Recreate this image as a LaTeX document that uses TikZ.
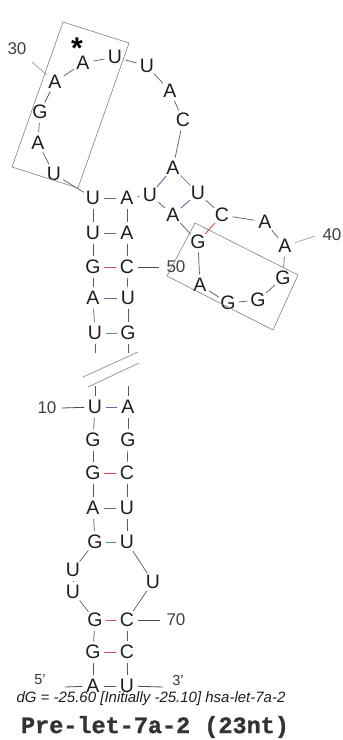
\documentclass[tikz,border=0pt]{standalone}
\usepackage{fontspec}
\setmainfont{Liberation Sans}
\setmonofont{Liberation Mono}[BoldFeatures={FakeBold=1.2}]
\definecolor{aucol}{HTML}{6464A8}
\definecolor{gccol}{HTML}{E0484C}
\definecolor{gucol}{HTML}{4CA04C}
\definecolor{bbcol}{HTML}{5A5A5A}
\definecolor{txtcol}{HTML}{1E1E1E}
\begin{document}
\begin{tikzpicture}[x=1pt,y=-1pt,
  nt/.style={circle, inner sep=0pt, minimum size=21pt, text=txtcol,
             font=\fontsize{19.5}{19.5}\selectfont},
  bb/.style={draw=bbcol, line width=0.7pt},
  au/.style={draw=aucol, line width=0.9pt},
  gc/.style={draw=gccol, line width=0.9pt},
  gu/.style={draw=gucol, line width=0.9pt},
  labdark/.style={draw=black!70, line width=0.8pt},
  lablight/.style={draw=black!35, line width=0.8pt},
  numlab/.style={text=black!75, font=\fontsize{17}{17}\selectfont},
  endlab/.style={text=black!80, font=\fontsize{14.5}{14.5}\selectfont},
  framebox/.style={draw=black!50, line width=0.6pt},
  breakline/.style={draw=black!40, line width=0.8pt}]
\useasboundingbox (0,0) rectangle (343,740);

% 5' strand, lower stem and interior loop
\node[nt] (n1)  at (93,686) {A};
\node[nt] (n2)  at (93,652) {G};
\node[nt] (n3)  at (95,620) {G};
\node[nt] (n4)  at (73,592) {U};
\node[nt] (n5)  at (73,570) {U};
\node[nt] (n6)  at (95,542) {G};
\node[nt] (n7)  at (93,508) {A};
\node[nt] (n8)  at (93,473) {G};
\node[nt] (n9)  at (93,440) {G};
\node[nt] (n10) at (95,407) {U};
% upper stem, 5' side
\node[nt] (n22) at (95,333) {U};
\node[nt] (n23) at (93,298) {A};
\node[nt] (n24) at (93,267) {G};
\node[nt] (n25) at (93,233) {U};
\node[nt] (n26) at (93,198) {U};
% terminal loop
\node[nt] (n27) at (54,174) {U};
\node[nt] (n28) at (38,143) {A};
\node[nt] (n29) at (40,112) {G};
\node[nt] (n30) at (55,82)  {A};
\node[nt] (n31) at (83,63)  {A};
\node[nt] (n32) at (115,57) {U};
\node[nt] (n33) at (147,66) {U};
\node[nt] (n34) at (170,91) {A};
\node[nt] (n35) at (183,120) {C};
\node[nt] (n36) at (173,168) {A};
\node[nt] (n37) at (198,193) {U};
\node[nt] (n38) at (222,215) {C};
\node[nt] (n39) at (265,222) {A};
\node[nt] (n40) at (285,246) {A};
\node[nt] (n41) at (283,278) {G};
\node[nt] (n42) at (258,300) {G};
\node[nt] (n43) at (228,303) {G};
\node[nt] (n44) at (200,285) {A};
\node[nt] (n45) at (198,242) {G};
\node[nt] (n46) at (173,215) {A};
\node[nt] (n47) at (150,195) {U};
% upper stem, 3' side
\node[nt] (n48) at (127,198) {A};
\node[nt] (n49) at (127,233) {A};
\node[nt] (n50) at (127,267) {C};
\node[nt] (n51) at (128,298) {U};
\node[nt] (n52) at (128,333) {G};
% lower stem, 3' side
\node[nt] (n64) at (128,407) {A};
\node[nt] (n65) at (128,440) {G};
\node[nt] (n66) at (127,473) {C};
\node[nt] (n67) at (127,508) {U};
\node[nt] (n68) at (127,542) {U};
\node[nt] (n69) at (153,582) {U};
\node[nt] (n70) at (127,620) {C};
\node[nt] (n71) at (127,652) {C};
\node[nt] (n72) at (127,686) {U};

% backbone
\foreach \a/\b in {n1/n2,n2/n3,n3/n4,n4/n5,n5/n6,n6/n7,n7/n8,n8/n9,n9/n10,
  n22/n23,n23/n24,n24/n25,n25/n26,n26/n27,n27/n28,n28/n29,n29/n30,n30/n31,
  n31/n32,n32/n33,n33/n34,n34/n35,n35/n36,n36/n37,n37/n38,n38/n39,n39/n40,
  n40/n41,n41/n42,n42/n43,n43/n44,n44/n45,n45/n46,n46/n47,n47/n48,n48/n49,
  n49/n50,n50/n51,n51/n52,n64/n65,n65/n66,n66/n67,n67/n68,n68/n69,n69/n70,
  n70/n71,n71/n72}
  \draw[bb] (\a) -- (\b);

% base pairs
\foreach \a/\b in {n26/n48,n25/n49,n23/n51,n10/n64,n7/n67,n36/n47,n37/n46}
  \draw[au] (\a) -- (\b);
\foreach \a/\b in {n24/n50,n8/n66,n3/n70,n2/n71,n38/n45}
  \draw[gc] (\a) -- (\b);
\foreach \a/\b in {n22/n52,n6/n68}
  \draw[gu] (\a) -- (\b);
\draw[bb] (n1) -- (n72);

% strand break
\coordinate (b1) at (95,353);
\coordinate (b2) at (128,353);
\coordinate (b3) at (95,386);
\coordinate (b4) at (128,386);
\draw[bb] (n22) -- (b1);
\draw[bb] (n52) -- (b2);
\draw[bb] (b3) -- (n10);
\draw[bb] (b4) -- (n64);
\coordinate (c1) at (83,377);
\coordinate (c2) at (138,352);
\coordinate (c3) at (88,387);
\coordinate (c4) at (139,363);
\draw[breakline] (c1) -- (c2);
\draw[breakline] (c3) -- (c4);

% highlighted regions
\draw[framebox] (63,22) -- (129,43) -- (78,188) -- (12,167) -- cycle;
\draw[framebox] (195,223) -- (298,275) -- (273,330) -- (167,276) -- cycle;

% position labels
\coordinate (t30) at (32,62);
\draw[lablight] (t30) -- (n30);
\node[numlab] (L30) at (17,49) {30};
\coordinate (t40) at (315,236);
\draw[lablight] (n40) -- (t40);
\node[numlab] (L40) at (332,235) {40};
\coordinate (t50) at (159,267);
\draw[labdark] (n50) -- (t50);
\node[numlab] (L50) at (176,267) {50};
\coordinate (t70) at (160,620);
\draw[labdark] (n70) -- (t70);
\node[numlab] (L70) at (176,620) {70};
\coordinate (t10) at (62,408);
\draw[labdark] (t10) -- (n10);
\node[numlab] (L10) at (47,408) {10};

% strand ends
\coordinate (t5) at (65,687);
\draw[labdark] (t5) -- (n1);
\node[endlab] (L5) at (40,680) {5'};
\coordinate (t3) at (163,687);
\draw[labdark] (n72) -- (t3);
\node[endlab] (L3) at (178,680) {3'};

% mature sequence start mark
\node[inner sep=0pt, font=\fontsize{30}{30}\selectfont\bfseries] (star) at (77,48) {*};

% captions
\node[text=txtcol, font=\fontsize{15}{15}\selectfont\itshape] (dg) at (151,699)
  {dG = -25.60 [Initially -25.10] hsa-let-7a-2};
\node[text=black!80, font=\fontsize{23.5}{23.5}\selectfont\ttfamily\bfseries] (title) at (155,727)
  {Pre-let-7a-2 (23nt)};
\end{tikzpicture}
\end{document}
